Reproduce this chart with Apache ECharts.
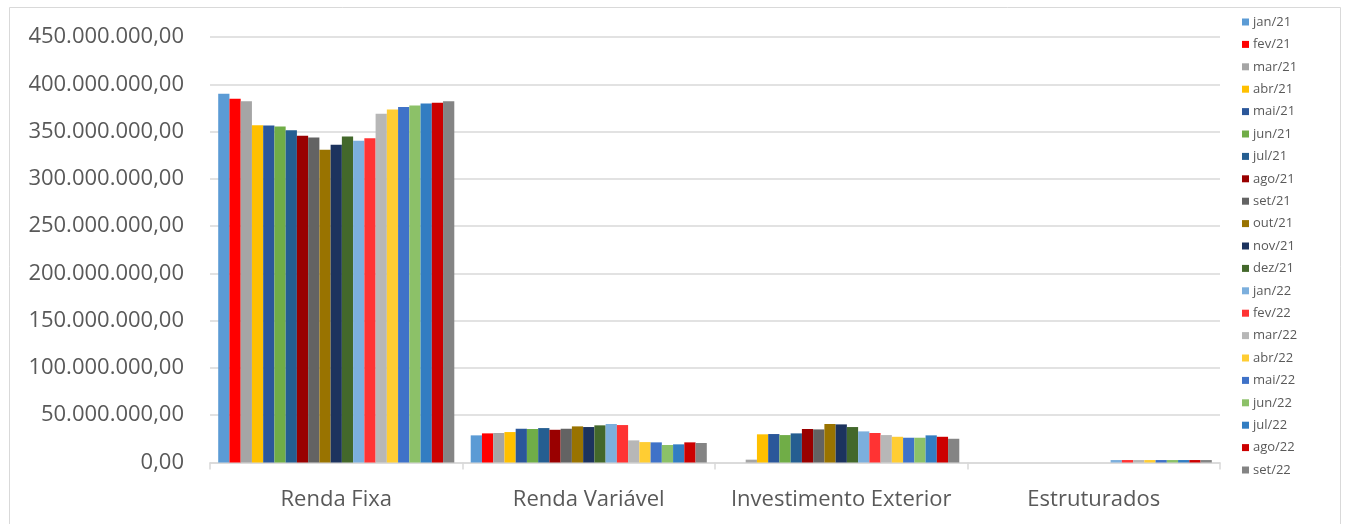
<!DOCTYPE html>
<html>
<head>
<meta charset="utf-8">
<script src="https://cdn.jsdelivr.net/npm/echarts@6/dist/echarts.min.js"></script>
<style>
  html, body { margin: 0; padding: 0; background: #ffffff; }
  #chart { width: 1346px; height: 524px; }
</style>
</head>
<body>
<div id="chart"></div>
<script>
// Asset classes on the category axis
const categories = ['Renda Fixa', 'Renda Variável', 'Investimento Exterior', 'Estruturados'];

// Months shown in the legend, one series each
const months = ['jan/21', 'fev/21', 'mar/21', 'abr/21', 'mai/21', 'jun/21', 'jul/21', 'ago/21', 'set/21',
  'out/21', 'nov/21', 'dez/21', 'jan/22', 'fev/22', 'mar/22', 'abr/22', 'mai/22', 'jun/22', 'jul/22',
  'ago/22', 'set/22'];

// Balances per asset class, in millions, one value per month
const rendaFixa = [389.9, 384.6, 382.1, 356.7, 356.4, 355.3, 351.4, 345.5, 343.7, 330.7, 336.0,
  344.8, 340.2, 343.0, 368.7, 373.3, 376.1, 377.5, 379.6, 380.4, 382.1];
const rendaVariavel = [28.7, 30.8, 31.2, 32.2, 35.7, 35.4, 36.4, 34.6, 35.7, 38.2, 37.5,
  39.3, 40.7, 39.6, 23.4, 21.6, 21.3, 18.5, 19.2, 21.3, 20.6];
const investimentoExterior = [null, null, 3.0, 29.8, 30.1, 29.0, 30.8, 35.4, 35.0, 40.7, 40.3,
  37.5, 32.9, 31.2, 29.0, 27.2, 26.2, 26.2, 28.7, 27.2, 25.1];
const estruturados = [null, null, null, null, null, null, null, null, null, null, null,
  null, 2.6, 2.6, 2.6, 2.6, 2.6, 2.6, 2.6, 2.6, 2.6];

// Value-axis ticks, in millions
const yTicks = [0, 50, 100, 150, 200, 250, 300, 350, 400, 450];

const monthColors = ['#5B9BD5', '#FF0000', '#A5A5A5', '#FFC000', '#2B579A', '#70AD47', '#255E91',
  '#990000', '#636363', '#997300', '#1C335E', '#43682B', '#7CAFDD', '#FF3333', '#B7B7B7',
  '#FFCD33', '#3F72C8', '#8CC168', '#327DC2', '#CC0000', '#848484'];

const MILLION = 1e6;
const classValues = [rendaFixa, rendaVariavel, investimentoExterior, estruturados];

// Brazilian number format: 450.000.000,00
function formatBRL(v) {
  const parts = Math.round(v).toString().replace(/\B(?=(\d{3})+(?!\d))/g, '.');
  return parts + ',00';
}

const series = months.map((m, i) => ({
  name: m,
  type: 'bar',
  barGap: '0%',
  barCategoryGap: '6.5%',
  itemStyle: { color: monthColors[i] },
  data: classValues.map(arr => arr[i] == null ? null : arr[i] * MILLION)
}));

const chart = echarts.init(document.getElementById('chart'), null, { renderer: 'canvas' });
const textColor = '#595959';
const fontFamily = '"Open Sans", "Noto Sans", sans-serif';

chart.setOption({
  animation: false,
  backgroundColor: '#ffffff',
  color: monthColors,
  graphic: [{
    type: 'rect',
    shape: { x: 9.5, y: 7.5, width: 1331, height: 530 },
    style: { fill: 'none', stroke: '#D9D9D9', lineWidth: 1 },
    silent: true,
    z: -1
  }],
  grid: { left: 210, right: 126, top: 37, bottom: 61.5, containLabel: false },
  legend: {
    orient: 'vertical',
    left: 1237,
    top: 10,
    itemWidth: 7,
    itemHeight: 7,
    itemGap: 8.4,
    icon: 'rect',
    textStyle: { color: textColor, fontSize: 13, fontFamily: fontFamily, lineHeight: 14, padding: [0, 0, 0, -1] },
    data: months
  },
  xAxis: {
    type: 'category',
    data: categories,
    axisLine: { show: true, lineStyle: { color: '#D9D9D9', width: 1.5 } },
    axisTick: { show: true, alignWithLabel: false, length: 7, lineStyle: { color: '#D9D9D9', width: 1.5 } },
    axisLabel: { interval: 0, color: textColor, fontSize: 22, fontFamily: fontFamily, margin: 26 },
    splitLine: { show: false }
  },
  yAxis: {
    type: 'value',
    min: yTicks[0] * MILLION,
    max: yTicks[yTicks.length - 1] * MILLION,
    interval: (yTicks[1] - yTicks[0]) * MILLION,
    axisLine: { show: false },
    axisTick: { show: false },
    axisLabel: { color: textColor, fontSize: 22, fontFamily: fontFamily, margin: 26, formatter: formatBRL },
    splitLine: { lineStyle: { color: '#D9D9D9', width: 1.5 } }
  },
  series: series
});
</script>
</body>
</html>
